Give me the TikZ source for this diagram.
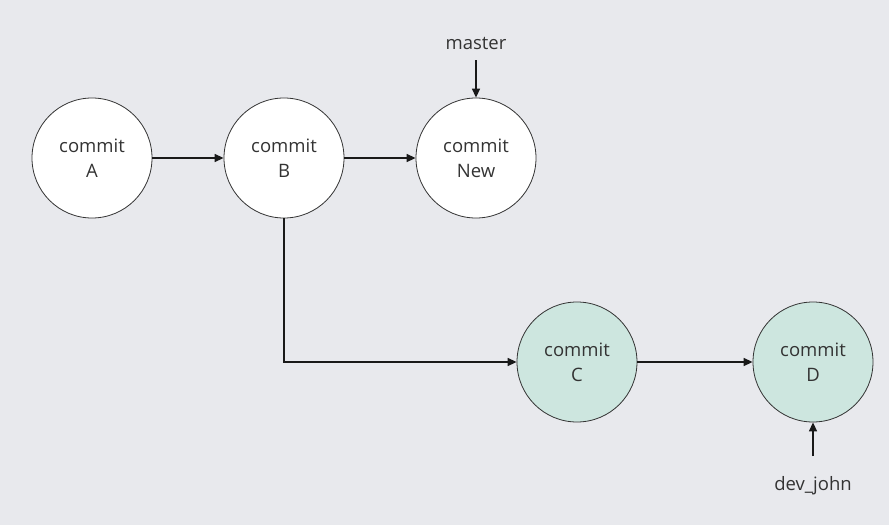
\documentclass[tikz,border=0pt]{standalone}
\usepackage{fontspec}
\setmainfont{Open Sans}
\usetikzlibrary{arrows.meta}
\definecolor{canvas}{RGB}{232,233,237}
\definecolor{branchfill}{RGB}{205,230,223}
\definecolor{ink}{RGB}{51,51,51}
\begin{document}
\begin{tikzpicture}[x=1pt,y=-1pt,
  commit/.style={circle,draw=black!80,line width=0.8pt,fill=white,
    minimum size=120pt,inner sep=0pt,align=center,text=ink,
    font=\fontsize{18.5}{25}\selectfont},
  branchcommit/.style={commit,fill=branchfill},
  reflabel/.style={text=ink,font=\fontsize{18.5}{22}\selectfont,inner sep=2pt},
  link/.style={draw=black!90,line width=1.4pt,
    -{Triangle[length=9pt,width=8pt]}}]
  \fill[canvas] (0,0) rectangle (889,525);
  \useasboundingbox (0,0) rectangle (889,525);
  % commits on master
  \node[commit] (A) at (92,158) {commit\\A};
  \node[commit] (B) at (284,158) {commit\\B};
  \node[commit] (N) at (476,158) {commit\\New};
  % commits on the dev branch
  \node[branchcommit] (C) at (577,362) {commit\\C};
  \node[branchcommit] (D) at (813,362) {commit\\D};
  % branch pointers
  \node[reflabel] (master) at (476,43) {master};
  \node[reflabel] (dev) at (813,486) {dev\_john};
  \coordinate (masterTail) at (476,60);
  \coordinate (devTail) at (813,456);
  % history links
  \draw[link] (A) -- (B);
  \draw[link] (B) -- (N);
  \draw[link] (B.south) |- (C.west);
  \draw[link] (C) -- (D);
  \draw[link] (masterTail) -- (N.north);
  \draw[link] (devTail) -- (D.south);
\end{tikzpicture}
\end{document}
